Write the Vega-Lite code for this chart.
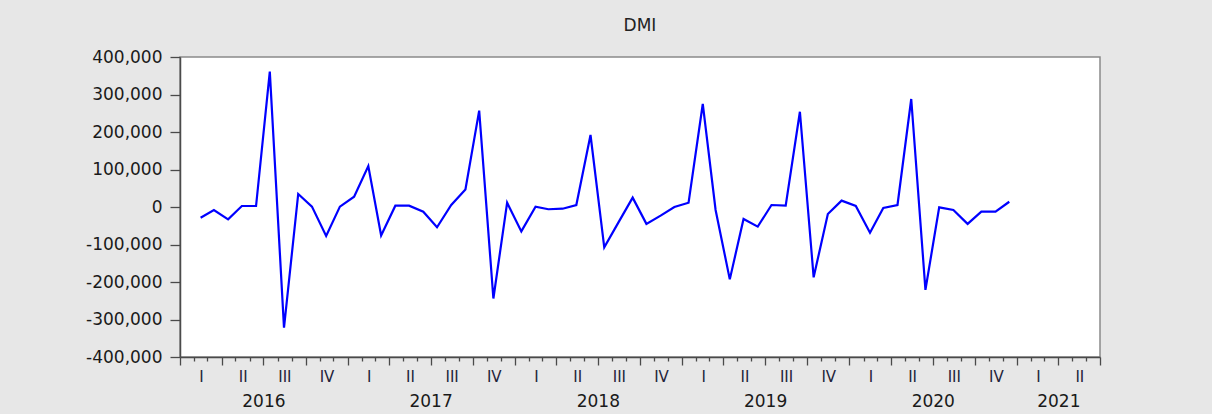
{
  "$schema": "https://vega.github.io/schema/vega-lite/v6.json",
  "width": 920,
  "height": 300,
  "autosize": {"type": "none"},
  "padding": {"left": 180, "top": 57, "right": 112, "bottom": 57},
  "background": "#e7e7e7",
  "title": {"text": "DMI", "font": "DejaVu Sans", "fontSize": 17, "fontWeight": "normal", "color": "#222222", "offset": 13, "anchor": "middle"},
  "config": {
    "view": {"fill": "white", "stroke": "#8a8a8a", "strokeWidth": 1.5},
    "axis": {"labelFont": "DejaVu Sans", "labelColor": "#1a1a1a"}
  },
  "data": {
    "values": [
      {"date": "2016-02-15", "dmi": -28500},
      {"date": "2016-03-15", "dmi": -8000},
      {"date": "2016-04-15", "dmi": -33000},
      {"date": "2016-05-15", "dmi": 2700},
      {"date": "2016-06-15", "dmi": 2700},
      {"date": "2016-07-15", "dmi": 361000},
      {"date": "2016-08-15", "dmi": -322000},
      {"date": "2016-09-15", "dmi": 34700},
      {"date": "2016-10-15", "dmi": 1000},
      {"date": "2016-11-15", "dmi": -77000},
      {"date": "2016-12-15", "dmi": 1000},
      {"date": "2017-01-15", "dmi": 27500},
      {"date": "2017-02-15", "dmi": 109000},
      {"date": "2017-03-15", "dmi": -76000},
      {"date": "2017-04-15", "dmi": 3500},
      {"date": "2017-05-15", "dmi": 3500},
      {"date": "2017-06-15", "dmi": -12400},
      {"date": "2017-07-15", "dmi": -54000},
      {"date": "2017-08-15", "dmi": 5300},
      {"date": "2017-09-15", "dmi": 47000},
      {"date": "2017-10-15", "dmi": 257000},
      {"date": "2017-11-15", "dmi": -244000},
      {"date": "2017-12-15", "dmi": 11500},
      {"date": "2018-01-15", "dmi": -65000},
      {"date": "2018-02-15", "dmi": 1000},
      {"date": "2018-03-15", "dmi": -6000},
      {"date": "2018-04-15", "dmi": -4500},
      {"date": "2018-05-15", "dmi": 5300},
      {"date": "2018-06-15", "dmi": 192000},
      {"date": "2018-07-15", "dmi": -107500},
      {"date": "2018-08-15", "dmi": -41000},
      {"date": "2018-09-15", "dmi": 25000},
      {"date": "2018-10-15", "dmi": -45000},
      {"date": "2018-11-15", "dmi": -23000},
      {"date": "2018-12-15", "dmi": 0},
      {"date": "2019-01-15", "dmi": 11500},
      {"date": "2019-02-15", "dmi": 274700},
      {"date": "2019-03-15", "dmi": -8000},
      {"date": "2019-04-15", "dmi": -193000},
      {"date": "2019-05-15", "dmi": -32000},
      {"date": "2019-06-15", "dmi": -52400},
      {"date": "2019-07-15", "dmi": 5300},
      {"date": "2019-08-15", "dmi": 3500},
      {"date": "2019-09-15", "dmi": 254000},
      {"date": "2019-10-15", "dmi": -187500},
      {"date": "2019-11-15", "dmi": -18700},
      {"date": "2019-12-15", "dmi": 17000},
      {"date": "2020-01-15", "dmi": 2700},
      {"date": "2020-02-15", "dmi": -68400},
      {"date": "2020-03-15", "dmi": -2700},
      {"date": "2020-04-15", "dmi": 5300},
      {"date": "2020-05-15", "dmi": 288000},
      {"date": "2020-06-15", "dmi": -221000},
      {"date": "2020-07-15", "dmi": -1000},
      {"date": "2020-08-15", "dmi": -8000},
      {"date": "2020-09-15", "dmi": -45000},
      {"date": "2020-10-15", "dmi": -12400},
      {"date": "2020-11-15", "dmi": -12400},
      {"date": "2020-12-15", "dmi": 14000}
    ]
  },
  "layer": [
    {
      "mark": {"type": "line", "color": "#0000ff", "strokeWidth": 2.2},
      "encoding": {
        "x": {
          "field": "date", "type": "temporal",
          "scale": {"type": "utc", "domain": [{"year": 2016, "month": 1, "date": 1, "utc": true}, {"year": 2021, "month": 7, "date": 1, "utc": true}]},
          "axis": {
            "orient": "bottom",
            "title": null, "labels": false, "grid": false,
            "domainColor": "#4a4a4a", "domainWidth": 1.5,
            "tickColor": "#4a4a4a", "tickWidth": 1.3,
            "tickCount": {"interval": "month", "step": 1},
            "tickSize": {"condition": {"test": "utcmonth(datum.value) % 3 === 0", "value": 8}, "value": 4}
          }
        },
        "y": {
          "field": "dmi", "type": "quantitative",
          "scale": {"domain": [-400000, 400000], "nice": false, "zero": false},
          "axis": {
            "orient": "left",
            "title": null, "grid": false,
            "values": [-400000, -300000, -200000, -100000, 0, 100000, 200000, 300000, 400000],
            "tickSize": 10, "tickColor": "#4a4a4a", "tickWidth": 1.3,
            "domainColor": "#4a4a4a", "domainWidth": 1.5,
            "labelPadding": 8, "labelFontSize": 17,
            "labelOverlap": false, "labelBound": false, "labelFlush": false,
            "labelExpr": "replace(format(datum.value, ','), '\u2212', '-')"
          }
        }
      }
    },
    {
      "mark": {"type": "line", "opacity": 0},
      "encoding": {
        "x": {
          "field": "date", "type": "temporal",
          "axis": {
            "orient": "bottom",
            "title": null, "domain": false, "ticks": false, "grid": false,
            "tickCount": {"interval": "month", "step": 3},
            "labelOffset": 21, "labelPadding": 12, "labelFontSize": 15,
            "labelAlign": "center", "labelBaseline": "top",
            "labelOverlap": false, "labelBound": false, "labelFlush": false,
            "labelColor": "#23233a",
            "labelExpr": "(utcyear(datum.value) == 2021 && utcmonth(datum.value) >= 6) ? '' : ['I','II','III','IV'][floor(utcmonth(datum.value) / 3)]"
          }
        },
        "y": {"field": "dmi", "type": "quantitative", "axis": null}
      }
    },
    {
      "mark": {"type": "line", "opacity": 0},
      "encoding": {
        "x": {
          "field": "date", "type": "temporal",
          "axis": {
            "orient": "bottom",
            "title": null, "domain": false, "ticks": false, "grid": false,
            "values": [
              {"year": 2016, "month": 7, "date": 1, "utc": true},
              {"year": 2017, "month": 7, "date": 1, "utc": true},
              {"year": 2018, "month": 7, "date": 1, "utc": true},
              {"year": 2019, "month": 7, "date": 1, "utc": true},
              {"year": 2020, "month": 7, "date": 1, "utc": true},
              {"year": 2021, "month": 4, "date": 1, "utc": true}
            ],
            "labelPadding": 36, "labelFontSize": 17,
            "labelAlign": "center", "labelBaseline": "top",
            "labelOverlap": false, "labelBound": false, "labelFlush": false,
            "labelColor": "#1a1a1a",
            "labelExpr": "'' + utcyear(datum.value)"
          }
        },
        "y": {"field": "dmi", "type": "quantitative", "axis": null}
      }
    }
  ],
  "resolve": {"axis": {"x": "independent", "y": "independent"}}
}
